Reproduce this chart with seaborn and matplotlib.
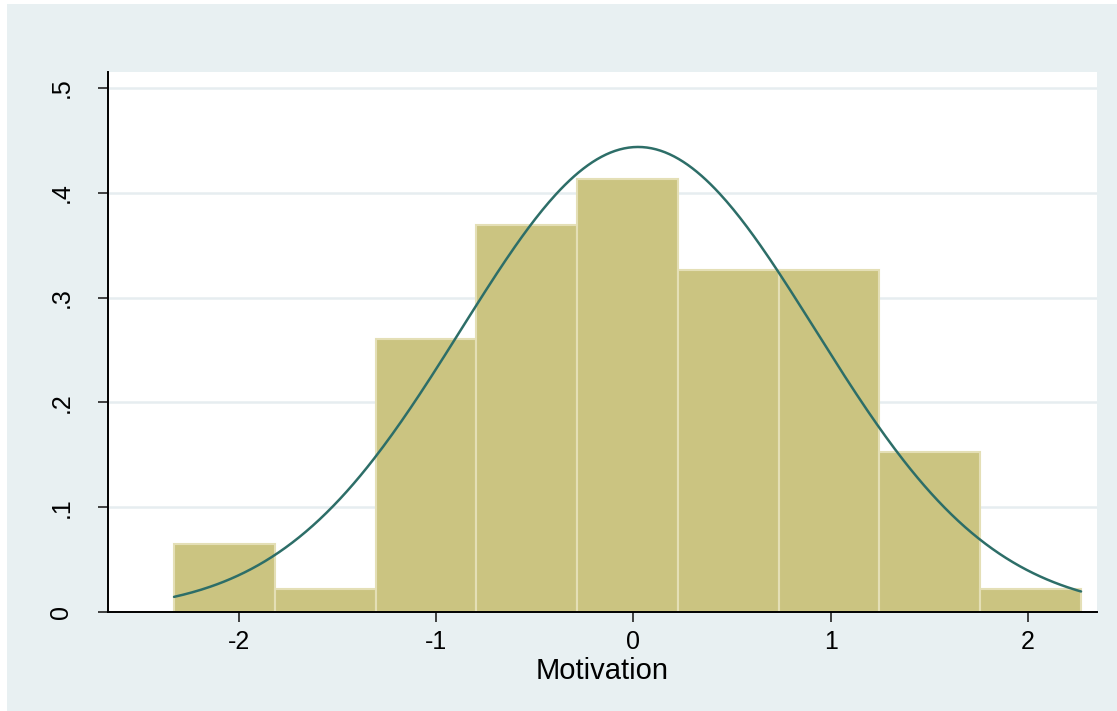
import numpy as np
import pandas as pd
import matplotlib
matplotlib.use("Agg")
import matplotlib.pyplot as plt
import seaborn as sns
from matplotlib.patches import Rectangle

# Histogram of standardized motivation scores (n = 90)
bin_edges = [-2.329, -1.818, -1.307, -0.796, -0.285, 0.226, 0.737, 1.248, 1.759, 2.270]
bin_counts = [3, 1, 12, 17, 19, 15, 15, 7, 1]

# Fitted normal density
norm_mean = 0.024
norm_sd = 0.899

x_ticks = [-2, -1, 0, 1, 2]
x_tick_labels = ["-2", "-1", "0", "1", "2"]
y_ticks = [0, 0.1, 0.2, 0.3, 0.4, 0.5]
y_tick_labels = ["0", ".1", ".2", ".3", ".4", ".5"]
x_label = "Motivation"

sns.set_theme(style="white")
plt.rcParams["font.family"] = ["Liberation Sans", "DejaVu Sans"]

bar_fill = "#CBC481"
bar_edge = "#E4DFB6"
curve_color = "#2D6E68"
panel_color = "#E8F0F2"
grid_color = "#E6EDF0"

fig = plt.figure(figsize=(11.17, 7.11), dpi=100)
fig.patch.set_facecolor("white")
fig.patches.append(Rectangle((7 / 1117, 0), 1 - 7 / 1117, 1 - 4 / 711,
                             transform=fig.transFigure, facecolor=panel_color,
                             edgecolor="none", zorder=-10))

ax = fig.add_axes([108 / 1117, 99 / 711, 989 / 1117, 540 / 711])
ax.set_zorder(1)
ax.set_facecolor("white")

centers = [(a + b) / 2 for a, b in zip(bin_edges[:-1], bin_edges[1:])]
df = pd.DataFrame({"x": centers, "w": bin_counts})
sns.histplot(data=df, x="x", weights="w", bins=bin_edges, stat="density",
             color=bar_fill, edgecolor=bar_edge, linewidth=1.5, alpha=1,
             ax=ax, zorder=2)

xs = np.linspace(bin_edges[0], bin_edges[-1], 400)
ys = np.exp(-0.5 * ((xs - norm_mean) / norm_sd) ** 2) / (norm_sd * np.sqrt(2 * np.pi))
sns.lineplot(x=xs, y=ys, color=curve_color, linewidth=1.8, ax=ax, zorder=3)

ax.set_xlim(-2.664, 2.351)
ax.set_ylim(0, 0.5153)

for yv in y_ticks[1:]:
    ax.axhline(yv, color=grid_color, linewidth=1.8, zorder=1)

ax.set_xticks(x_ticks)
ax.set_xticklabels(x_tick_labels, fontsize=18)
ax.set_yticks(y_ticks)
ax.set_yticklabels(y_tick_labels, fontsize=18, rotation=90, va="center")
ax.tick_params(axis="both", direction="out", length=7, width=1.2,
               color="#222222", labelcolor="black")
ax.tick_params(axis="x", bottom=True, pad=6)
ax.tick_params(axis="y", left=True, pad=18)

ax.set_xlabel(x_label, fontsize=21, labelpad=2, color="black")
ax.set_ylabel("")

for side in ["top", "right"]:
    ax.spines[side].set_visible(False)
for side in ["left", "bottom"]:
    ax.spines[side].set_color("black")
    ax.spines[side].set_linewidth(1.4)

fig.savefig("out.png", dpi=100)
